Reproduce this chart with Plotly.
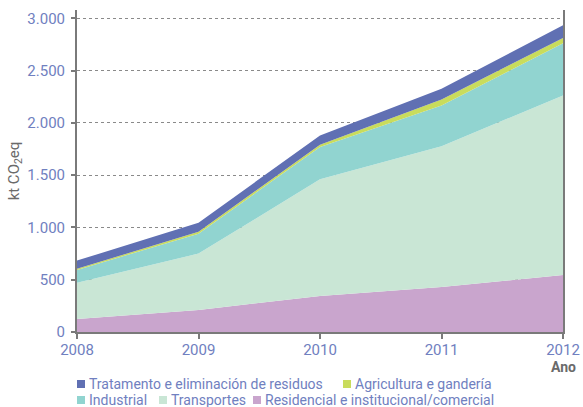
import plotly.graph_objects as go

years = [2008, 2009, 2010, 2011, 2012]
residencial = [125, 210, 345, 430, 546]
transportes = [345, 540, 1115, 1347, 1717]
industrial = [124, 190, 310, 390, 498]
agricultura = [10, 20, 20, 57, 51]
residuos = [79, 85, 90, 103, 122]

names = {
    "res": "Residencial e institucional/comercial",
    "tra": "Transportes",
    "ind": "Industrial",
    "agr": "Agricultura e gandería",
    "was": "Tratamento e eliminación de residuos",
}
colors = {
    "res": "#c9a5cd",
    "tra": "#c9e6d5",
    "ind": "#91d4d0",
    "agr": "#c9dc5c",
    "was": "#6070b3",
}
series = [("res", residencial), ("tra", transportes), ("ind", industrial),
          ("agr", agricultura), ("was", residuos)]

W, H = 583, 407
ML, MR, MT, MB = 77, 20, 10, 75
PW, PH = W - ML - MR, H - MT - MB

fig = go.Figure()
for key, vals in series:
    fig.add_trace(go.Scatter(
        x=years, y=vals, stackgroup="one", mode="none",
        fillcolor=colors[key], name=names[key], showlegend=False,
        hoverinfo="x+y+name"))

tick_color = "#7080c0"
axis_color = "#7a7a7a"
font_family = "Roboto, 'DejaVu Sans', sans-serif"


def px_to_paper(px, py):
    return (px - ML) / PW, (H - MB - py) / PH


# legend drawn as swatches + labels: (key, swatch_left_px, center_y_px)
legend_items = [("was", 77, 384), ("agr", 343, 384),
                ("ind", 77, 400), ("tra", 159, 400), ("res", 253, 400)]
shapes = []
annotations = []
for key, sx, cy in legend_items:
    x0, y0 = px_to_paper(sx, cy + 4)
    x1, y1 = px_to_paper(sx + 8, cy - 4)
    shapes.append(dict(type="rect", xref="paper", yref="paper", x0=x0, x1=x1,
                       y0=y0, y1=y1, fillcolor=colors[key], line=dict(width=0)))
    tx, ty = px_to_paper(sx + 10, cy)
    annotations.append(dict(text=names[key], xref="paper", yref="paper", x=tx, y=ty,
                            xanchor="left", yanchor="middle", showarrow=False,
                            font=dict(size=14, color=tick_color)))

annotations.append(dict(text="<b>Ano</b>", xref="paper", yref="paper", x=1, y=0,
                        xanchor="right", yanchor="top", xshift=15, yshift=-25,
                        showarrow=False, font=dict(size=14, color="#6a6a6a")))

fig.update_layout(
    width=W, height=H,
    margin=dict(l=ML, r=MR, t=MT, b=MB),
    paper_bgcolor="white", plot_bgcolor="white",
    separators=",.",
    showlegend=False,
    font=dict(family=font_family, color=tick_color, size=14),
    xaxis=dict(
        range=[2008, 2012], tickvals=years, ticktext=[str(y) for y in years],
        showgrid=False, zeroline=False, showline=True, linecolor=axis_color,
        linewidth=2, ticks="outside", ticklen=5, tickcolor=axis_color, tickwidth=2,
        tickfont=dict(size=15, color=tick_color), automargin=False,
        ticklabelstandoff=-2,
    ),
    yaxis=dict(
        range=[0, 3080], tickvals=[0, 500, 1000, 1500, 2000, 2500, 3000],
        tickformat=",d",
        showgrid=True, gridcolor="#8a8a8a", griddash="dot", gridwidth=1,
        zeroline=False, showline=True, mirror=True, linecolor=axis_color, linewidth=2,
        ticks="outside", ticklen=4, tickcolor=axis_color, tickwidth=2,
        tickfont=dict(size=15, color=tick_color), automargin=False,
        ticklabelstandoff=3,
        title=dict(text="kt CO<sub>2</sub>eq", font=dict(size=15, color="#6a6a6a"),
                   standoff=4),
        layer="below traces",
    ),
    shapes=shapes,
    annotations=annotations,
)

fig.write_html("out.html",
               config={"displayModeBar": False},
               post_script="document.body.style.margin='0';document.body.style.overflow='hidden';")
